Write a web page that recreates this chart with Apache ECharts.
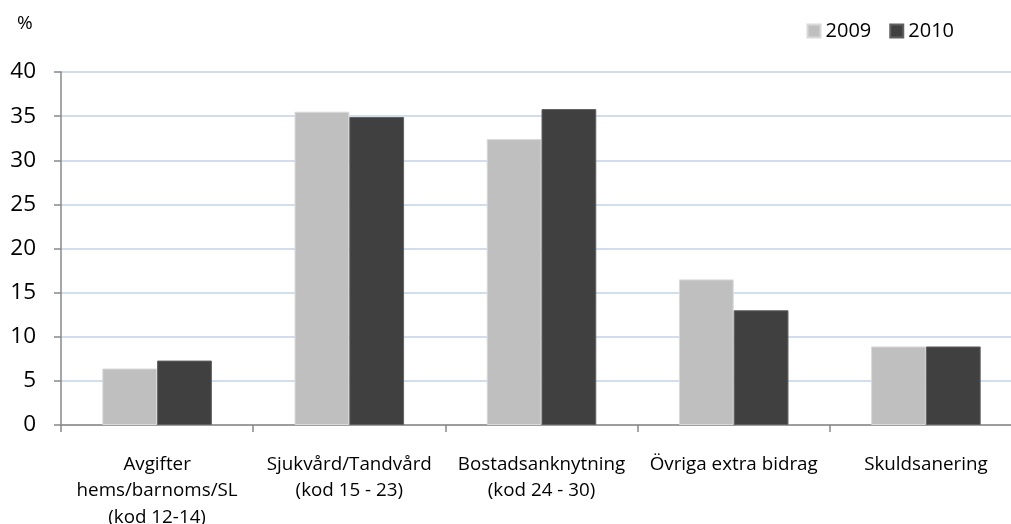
<!DOCTYPE html>
<html>
<head>
<meta charset="utf-8">
<script src="https://cdn.jsdelivr.net/npm/echarts@6/dist/echarts.min.js"></script>
<style>
html,body{margin:0;padding:0;background:#fff;}
#chart{width:1011px;height:524px;}
</style>
</head>
<body>
<div id="chart"></div>
<script>
const categories = [
  "Avgifter\nhems/barnoms/SL\n(kod 12-14)",
  "Sjukvård/Tandvård\n(kod 15 - 23)",
  "Bostadsanknytning\n(kod 24 - 30)",
  "Övriga extra bidrag",
  "Skuldsanering"
];
const seriesNames = ["2009", "2010"];
const values2009 = [6.4, 35.5, 32.4, 16.5, 8.9];
const values2010 = [7.3, 34.9, 35.8, 13.0, 8.9];
const yTicks = { min: 0, max: 40, interval: 5 };

const FONT = "'Open Sans', Lato, sans-serif";
const chart = echarts.init(document.getElementById('chart'), null, {renderer: 'canvas'});
chart.setOption({
  animation: false,
  backgroundColor: '#ffffff',
  textStyle: { fontFamily: FONT, color: '#000' },
  grid: { left: 61, top: 72, right: -11, bottom: 99, containLabel: false, outerBoundsMode: 'none' },
  graphic: [{
    type: 'text', left: 17, top: 14,
    style: { text: '%', fontFamily: FONT, fontSize: 19, fill: '#000' }
  }],
  legend: {
    right: 52, top: 16,
    itemWidth: 13, itemHeight: 13, itemGap: 18,
    icon: 'rect',
    textStyle: { fontFamily: FONT, fontSize: 20, color: '#000' },
    data: seriesNames
  },
  xAxis: {
    type: 'category',
    data: categories,
    axisLine: { lineStyle: { color: '#888888', width: 1.5 } },
    axisTick: { show: true, length: 7, lineStyle: { color: '#888888', width: 1.5 } },
    axisLabel: { interval: 0, margin: 26, fontFamily: FONT, fontSize: 18.8, lineHeight: 26.5, color: '#000' },
    splitLine: { show: false }
  },
  yAxis: {
    type: 'value',
    min: yTicks.min, max: yTicks.max, interval: yTicks.interval,
    axisLine: { show: true, lineStyle: { color: '#888888', width: 1.5 } },
    axisTick: { show: true, length: 7, lineStyle: { color: '#888888', width: 1.5 } },
    axisLabel: { margin: 25, fontFamily: FONT, fontSize: 22.5, color: '#000' },
    splitLine: { lineStyle: { color: '#c3d3e9', width: 1.5 } }
  },
  series: [
    { name: seriesNames[0], type: 'bar', data: values2009, barGap: '0%', barCategoryGap: '43%',
      itemStyle: { color: '#bfbfbf', borderColor: '#d9d9d9', borderWidth: 1 } },
    { name: seriesNames[1], type: 'bar', data: values2010,
      itemStyle: { color: '#404040', borderColor: '#606060', borderWidth: 1 } }
  ]
});
</script>
</body>
</html>
